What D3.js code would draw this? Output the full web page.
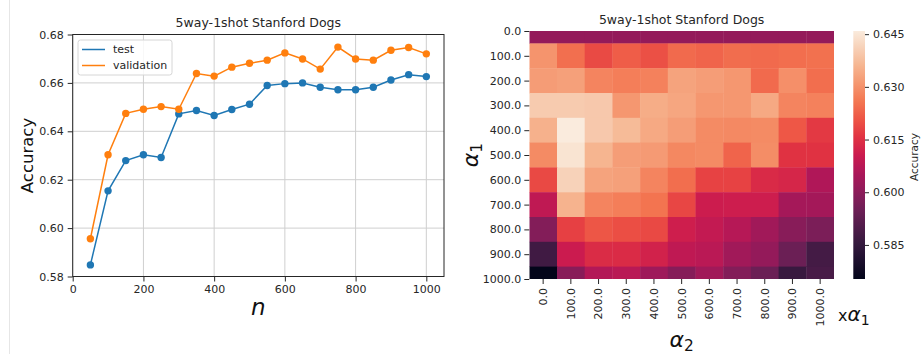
<!DOCTYPE html>
<html>
<head>
<meta charset="utf-8">
<script src="https://cdn.jsdelivr.net/npm/d3@7"></script>
<style>
  html, body { margin: 0; padding: 0; background: #fff; }
  svg { display: block; font-family: "DejaVu Sans", sans-serif; }
</style>
</head>
<body>
<svg id="chart" width="922" height="354"></svg>
<script>
// ---- line chart data: accuracy against n ----
const nValues = [50, 100, 150, 200, 250, 300, 350, 400, 450, 500, 550, 600, 650, 700, 750, 800, 850, 900, 950, 1000];
const testAcc = [0.5848, 0.6154, 0.6279, 0.6303, 0.6292, 0.6472, 0.6486, 0.6465, 0.6490, 0.6512,
                 0.6589, 0.6597, 0.6600, 0.6582, 0.6572, 0.6572, 0.6582, 0.6612, 0.6634, 0.6626];
const validAcc = [0.5956, 0.6303, 0.6474, 0.6491, 0.6502, 0.6491, 0.6639, 0.6628, 0.6665, 0.6681,
                  0.6694, 0.6724, 0.6699, 0.6657, 0.6748, 0.6699, 0.6694, 0.6735, 0.6746, 0.6720];
const lineXTicks = [0, 200, 400, 600, 800, 1000];
const lineYTicks = [0.58, 0.60, 0.62, 0.64, 0.66, 0.68];

// ---- heatmap data: accuracy over alpha1 (rows) x alpha2 (columns) ----
const alpha1Labels = ["0.0", "100.0", "200.0", "300.0", "400.0", "500.0", "600.0", "700.0", "800.0", "900.0", "1000.0"];
const alpha2Labels = ["0.0", "100.0", "200.0", "300.0", "400.0", "500.0", "600.0", "700.0", "800.0", "900.0", "1000.0"];
const heatRow0  = [0.6014, 0.6014, 0.6014, 0.6014, 0.6014, 0.6014, 0.6014, 0.6014, 0.6014, 0.6014, 0.6014];
const heatRow1  = [0.6304, 0.6247, 0.6191, 0.6220, 0.6200, 0.6240, 0.6230, 0.6244, 0.6240, 0.6245, 0.6250];
const heatRow2  = [0.6318, 0.6325, 0.6280, 0.6270, 0.6275, 0.6330, 0.6320, 0.6310, 0.6240, 0.6297, 0.6245];
const heatRow3  = [0.6400, 0.6400, 0.6395, 0.6310, 0.6346, 0.6335, 0.6310, 0.6310, 0.6340, 0.6280, 0.6275];
const heatRow4  = [0.6353, 0.6459, 0.6395, 0.6370, 0.6340, 0.6320, 0.6290, 0.6288, 0.6290, 0.6212, 0.6166];
const heatRow5  = [0.6290, 0.6445, 0.6360, 0.6320, 0.6315, 0.6285, 0.6290, 0.6230, 0.6293, 0.6155, 0.6155];
const heatRow6  = [0.6190, 0.6413, 0.6330, 0.6325, 0.6280, 0.6245, 0.6180, 0.6180, 0.6138, 0.6130, 0.6060];
const heatRow7  = [0.6085, 0.6357, 0.6280, 0.6270, 0.6254, 0.6185, 0.6109, 0.6110, 0.6110, 0.6042, 0.6040];
const heatRow8  = [0.5986, 0.6177, 0.6210, 0.6198, 0.6190, 0.6113, 0.6092, 0.6070, 0.6035, 0.5993, 0.5972];
const heatRow9  = [0.5873, 0.6106, 0.6141, 0.6140, 0.6120, 0.6085, 0.6078, 0.6035, 0.6014, 0.5947, 0.5880];
const heatRow10 = [0.5753, 0.5993, 0.6065, 0.6075, 0.6030, 0.5990, 0.6035, 0.5985, 0.5947, 0.5859, 0.5887];
const heatRows = [heatRow0, heatRow1, heatRow2, heatRow3, heatRow4, heatRow5, heatRow6, heatRow7, heatRow8, heatRow9, heatRow10];
const colorbarTicks = [0.585, 0.600, 0.615, 0.630, 0.645];

const svg = d3.select("#chart");
const ink = "#262626";

// faint page edge at the left
svg.append("line").attr("x1", 9.5).attr("x2", 9.5).attr("y1", 0).attr("y2", 354)
  .attr("stroke", "#e6e6e6").attr("stroke-width", 1);

// ================= line chart =================
const L = { left: 72.7, right: 444, top: 34.5, bottom: 276.5 };
const x = d3.scaleLinear().domain([0, 1050]).range([L.left, L.right]);
const y = d3.scaleLinear().domain([0.58, 0.68]).range([L.bottom, L.top]);

const gl = svg.append("g");

// grid
gl.append("g").selectAll("line.gx").data(lineXTicks).join("line")
  .attr("x1", d => x(d)).attr("x2", d => x(d)).attr("y1", L.top).attr("y2", L.bottom)
  .attr("stroke", "#cfcfcf").attr("stroke-width", 1);
gl.append("g").selectAll("line.gy").data(lineYTicks).join("line")
  .attr("x1", L.left).attr("x2", L.right).attr("y1", d => y(d)).attr("y2", d => y(d))
  .attr("stroke", "#cfcfcf").attr("stroke-width", 1);

// axes
const xAxis = d3.axisBottom(x).tickValues(lineXTicks).tickFormat(d3.format("d")).tickSize(5).tickPadding(4);
const yAxis = d3.axisLeft(y).tickValues(lineYTicks).tickFormat(d3.format(".2f")).tickSize(5).tickPadding(4);
const gx = gl.append("g").attr("transform", `translate(0,${L.bottom})`).call(xAxis);
const gy = gl.append("g").attr("transform", `translate(${L.left},0)`).call(yAxis);
[gx, gy].forEach(g => {
  g.select(".domain").remove();
  g.selectAll(".tick line").attr("stroke", ink);
  g.selectAll(".tick text").attr("fill", ink).style("font-size", "11px").style("font-family", "DejaVu Sans");
});

// frame
gl.append("rect").attr("x", L.left).attr("y", L.top)
  .attr("width", L.right - L.left).attr("height", L.bottom - L.top)
  .attr("fill", "none").attr("stroke", ink).attr("stroke-width", 1);

// series
const series = [
  { name: "test", values: testAcc, color: "#1f77b4" },
  { name: "validation", values: validAcc, color: "#ff7f0e" }
];
const line = d3.line().x(d => x(d[0])).y(d => y(d[1]));
series.forEach(s => {
  const pts = nValues.map((n, i) => [n, s.values[i]]);
  gl.append("path").datum(pts).attr("d", line)
    .attr("fill", "none").attr("stroke", s.color).attr("stroke-width", 1.5);
  gl.append("g").selectAll("circle").data(pts).join("circle")
    .attr("cx", d => x(d[0])).attr("cy", d => y(d[1])).attr("r", 3.7)
    .attr("fill", s.color);
});

// legend
const lg = gl.append("g").attr("transform", "translate(78,40)");
lg.append("rect").attr("width", 94).attr("height", 35).attr("rx", 2.5)
  .attr("fill", "#fff").attr("fill-opacity", 0.85).attr("stroke", "#d6d6d6");
series.forEach((s, i) => {
  const yy = 9.5 + i * 16;
  lg.append("line").attr("x1", 4).attr("x2", 27).attr("y1", yy).attr("y2", yy)
    .attr("stroke", s.color).attr("stroke-width", 1.5);
  lg.append("text").attr("x", 35).attr("y", yy).attr("dy", "0.35em")
    .attr("fill", ink).style("font-size", "11px").text(s.name);
});

// titles
gl.append("text").attr("x", (L.left + L.right) / 2).attr("y", 23).attr("dy", "0.35em")
  .attr("text-anchor", "middle").attr("fill", ink).style("font-size", "12.5px")
  .text("5way-1shot Stanford Dogs");
gl.append("text").attr("transform", `translate(27,${(L.top + L.bottom) / 2}) rotate(-90)`)
  .attr("text-anchor", "middle").attr("dy", "0.35em").attr("fill", "#111")
  .style("font-size", "16.5px").text("Accuracy");
gl.append("text").attr("x", (L.left + L.right) / 2).attr("y", 315)
  .attr("text-anchor", "middle").attr("fill", "#111")
  .style("font-size", "23px").style("font-style", "italic").text("n");

// ================= heatmap =================
const H = { left: 529.3, right: 834, top: 31, bottom: 279 };
const flat = heatRows.flat();
const [vmin, vmax] = d3.extent(flat);

// rocket colormap
const rocketStops = ["#03051a", "#1c0f2d", "#35193e", "#521c4b", "#701f57", "#8f1b5a", "#ad1759",
                     "#cb1b4f", "#e13342", "#ed5445", "#f37651", "#f5966f", "#f6b48f", "#f7d0b6", "#faebdd"];
const rocket = d3.scaleLinear()
  .domain(rocketStops.map((_, i) => i / (rocketStops.length - 1)))
  .range(rocketStops).interpolate(d3.interpolateRgb).clamp(true);
const norm = d3.scaleLinear().domain([vmin, vmax]).range([0, 1]).clamp(true);
const color = v => rocket(norm(v));

const colX = d3.scaleBand().domain(alpha2Labels).range([H.left, H.right]).padding(0);
const rowY = d3.scaleLinear().domain([0.5, alpha1Labels.length - 0.5]).range([H.top, H.bottom]);

const gh = svg.append("g");
gh.append("clipPath").attr("id", "heatClip").append("rect")
  .attr("x", H.left).attr("y", H.top).attr("width", H.right - H.left).attr("height", H.bottom - H.top);

const cells = [];
heatRows.forEach((row, r) => row.forEach((v, c) => cells.push({ r, c, v })));
gh.append("g").attr("clip-path", "url(#heatClip)")
  .selectAll("rect").data(cells).join("rect")
  .attr("x", d => colX(alpha2Labels[d.c]))
  .attr("y", d => rowY(d.r))
  .attr("width", colX.bandwidth() + 0.4)
  .attr("height", rowY(1) - rowY(0) + 0.4)
  .attr("fill", d => color(d.v));

// row axis (alpha1)
const rowTickScale = d3.scalePoint().domain(alpha1Labels).range([H.top, H.bottom]);
const ga = gh.append("g").attr("transform", `translate(${H.left},0)`)
  .call(d3.axisLeft(rowTickScale).tickSize(5).tickPadding(3));
ga.select(".domain").remove();
ga.selectAll(".tick line").attr("stroke", ink);
ga.selectAll(".tick text").attr("fill", ink).style("font-size", "11px").style("font-family", "DejaVu Sans");

// column axis (alpha2)
const gb = gh.append("g").attr("transform", `translate(0,${H.bottom})`)
  .call(d3.axisBottom(colX).tickSize(5).tickPadding(3));
gb.select(".domain").remove();
gb.selectAll(".tick line").attr("stroke", ink);
gb.selectAll(".tick text").attr("fill", ink).style("font-size", "11px").style("font-family", "DejaVu Sans")
  .attr("transform", "rotate(-90)").attr("text-anchor", "end")
  .attr("x", -9).attr("y", 0).attr("dy", "0.35em");

// heatmap title
gh.append("text").attr("x", (H.left + H.right) / 2).attr("y", 20).attr("dy", "0.35em")
  .attr("text-anchor", "middle").attr("fill", ink).style("font-size", "12.5px")
  .text("5way-1shot Stanford Dogs");

// alpha labels
function alphaLabel(g, sub) {
  g.append("tspan").style("font-style", "italic").text("α");
  g.append("tspan").attr("baseline-shift", "-25%").style("font-size", "70%").text(sub);
}
const a1 = gh.append("text").attr("transform", `translate(478,${(H.top + H.bottom) / 2}) rotate(-90)`)
  .attr("text-anchor", "middle").attr("fill", "#111").style("font-size", "22px");
alphaLabel(a1, "1");
const a2 = gh.append("text").attr("x", (H.left + H.right) / 2).attr("y", 347)
  .attr("text-anchor", "middle").attr("fill", "#111").style("font-size", "22px");
alphaLabel(a2, "2");
const xa = gh.append("text").attr("x", 838).attr("y", 321).attr("fill", "#111").style("font-size", "20px");
xa.append("tspan").style("font-size", "16px").text("x");
alphaLabel(xa, "1");

// colorbar
const C = { left: 853.3, right: 865, top: 31, bottom: 279 };
const cbY = d3.scaleLinear().domain([vmin, vmax]).range([C.bottom, C.top]);
const grad = svg.append("defs").append("linearGradient").attr("id", "cbGrad")
  .attr("x1", 0).attr("y1", 1).attr("x2", 0).attr("y2", 0);
grad.selectAll("stop").data(d3.range(0, 1.0001, 1 / 64)).join("stop")
  .attr("offset", d => d).attr("stop-color", d => rocket(d));
svg.append("rect").attr("x", C.left).attr("y", C.top)
  .attr("width", C.right - C.left).attr("height", C.bottom - C.top).attr("fill", "url(#cbGrad)");
const gc = svg.append("g").attr("transform", `translate(${C.right},0)`)
  .call(d3.axisRight(cbY).tickValues(colorbarTicks).tickFormat(d3.format(".3f")).tickSize(4).tickPadding(4));
gc.select(".domain").remove();
gc.selectAll(".tick line").attr("stroke", ink);
gc.selectAll(".tick text").attr("fill", ink).style("font-size", "11px").style("font-family", "DejaVu Sans");
svg.append("text").attr("transform", `translate(914,${(C.top + C.bottom) / 2 + 2}) rotate(-90)`)
  .attr("text-anchor", "middle").attr("dy", "0.35em").attr("fill", ink).style("font-size", "10.5px")
  .text("Accuracy");
</script>
</body>
</html>
